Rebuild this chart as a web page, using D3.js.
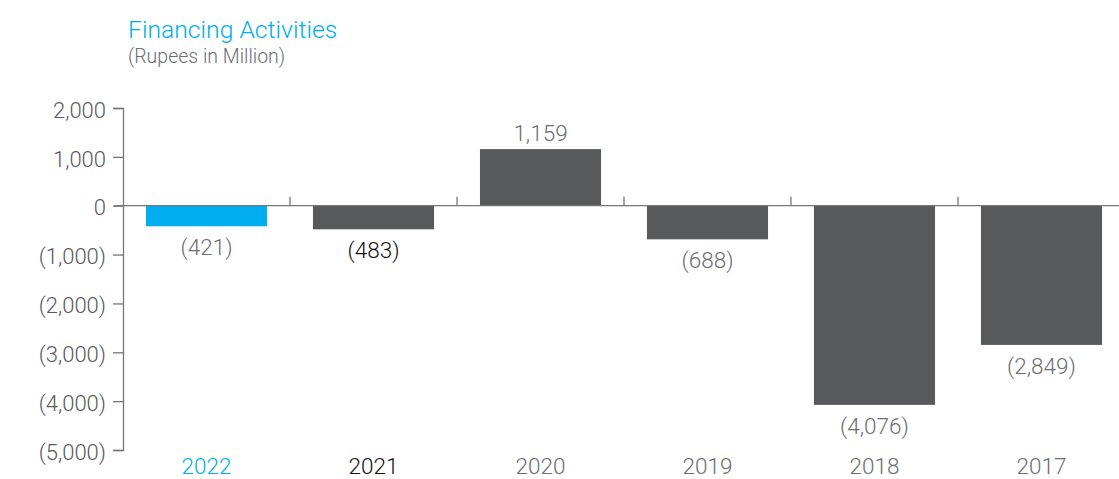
<!DOCTYPE html>
<html>
<head>
<meta charset="utf-8">
<script src="https://cdn.jsdelivr.net/npm/d3@7"></script>
<style>
  body { margin: 0; background: #fff; }
  text { font-family: "Roboto", "Liberation Sans", sans-serif; font-weight: 300; }
</style>
</head>
<body>
<svg id="chart" width="1119" height="479"></svg>
<script>
var years = ['2022', '2021', '2020', '2019', '2018', '2017'];
var values = [-421, -483, 1159, -688, -4076, -2849];
var labels = ['(421)', '(483)', '1,159', '(688)', '(4,076)', '(2,849)'];
var yTicks = [2000, 1000, 0, -1000, -2000, -3000, -4000, -5000];
var yTickLabels = ['2,000', '1,000', '0', '(1,000)', '(2,000)', '(3,000)', '(4,000)', '(5,000)'];

var blue = '#00aeef', grey = '#58595b';
var barColor = function (d, i) { return i === 0 ? blue : grey; };
var labelColor = function (d, i) { return i === 1 ? '#111' : '#6d6e71'; };
var yearColor = function (d, i) { return i === 0 ? blue : (i === 1 ? '#111' : '#6d6e71'); };

var svg = d3.select('#chart');

var x = d3.scaleBand()
  .domain(years)
  .range([123, 1125])
  .paddingInner(0.275)
  .paddingOuter(0.1375);

var y = d3.scaleLinear()
  .domain([-5000, 2000])
  .range([450, 108]);

// title
svg.append('text')
  .attr('x', 128).attr('y', 38)
  .attr('font-size', 24.7)
  .attr('fill', blue)
  .text('Financing Activities');
svg.append('text')
  .attr('x', 128).attr('y', 63)
  .attr('font-size', 19.5)
  .attr('fill', '#6d6e71')
  .text('(Rupees in Million)');

// bars
svg.append('g').selectAll('rect')
  .data(values)
  .enter().append('rect')
  .attr('x', function (d, i) { return x(years[i]); })
  .attr('width', x.bandwidth())
  .attr('y', function (d) { return y(Math.max(0, d)); })
  .attr('height', function (d) { return Math.abs(y(d) - y(0)); })
  .attr('fill', barColor);

// y axis
var yAxis = d3.axisLeft(y)
  .tickValues(yTicks)
  .tickSize(10)
  .tickPadding(7)
  .tickFormat(function (d, i) { return yTickLabels[i]; });

var ya = svg.append('g')
  .attr('transform', 'translate(123,0)')
  .call(yAxis);
ya.select('.domain').attr('stroke', '#777').attr('stroke-width', 1.3);
ya.selectAll('.tick line').attr('stroke', '#777').attr('stroke-width', 1.3);
ya.selectAll('.tick text')
  .attr('font-size', 22)
  .attr('dy', '0.42em')
  .attr('fill', '#58595b')
  .style('font-family', '"Roboto", "Liberation Sans", sans-serif')
  .style('font-weight', 300);

// zero line with category separators
svg.append('line')
  .attr('x1', 114).attr('x2', 1119)
  .attr('y1', y(0)).attr('y2', y(0))
  .attr('stroke', '#777').attr('stroke-width', 1.3);

svg.append('g').selectAll('line')
  .data(years.slice(1))
  .enter().append('line')
  .attr('x1', function (d) { return x(d) - x.step() * x.paddingInner() / 2; })
  .attr('x2', function (d) { return x(d) - x.step() * x.paddingInner() / 2; })
  .attr('y1', y(0) - 9).attr('y2', y(0))
  .attr('stroke', '#777').attr('stroke-width', 1.3);

// value labels
svg.append('g').selectAll('text')
  .data(values)
  .enter().append('text')
  .attr('x', function (d, i) { return x(years[i]) + x.bandwidth() / 2; })
  .attr('y', function (d) { return d >= 0 ? y(d) - 8 : y(d) + 29; })
  .attr('text-anchor', 'middle')
  .attr('font-size', 22.5)
  .attr('fill', labelColor)
  .text(function (d, i) { return labels[i]; });

// year labels
svg.append('g').selectAll('text')
  .data(years)
  .enter().append('text')
  .attr('x', function (d) { return x(d) + x.bandwidth() / 2; })
  .attr('y', 474)
  .attr('text-anchor', 'middle')
  .attr('font-size', 22.5)
  .attr('fill', yearColor)
  .text(function (d) { return d; });
</script>
</body>
</html>
